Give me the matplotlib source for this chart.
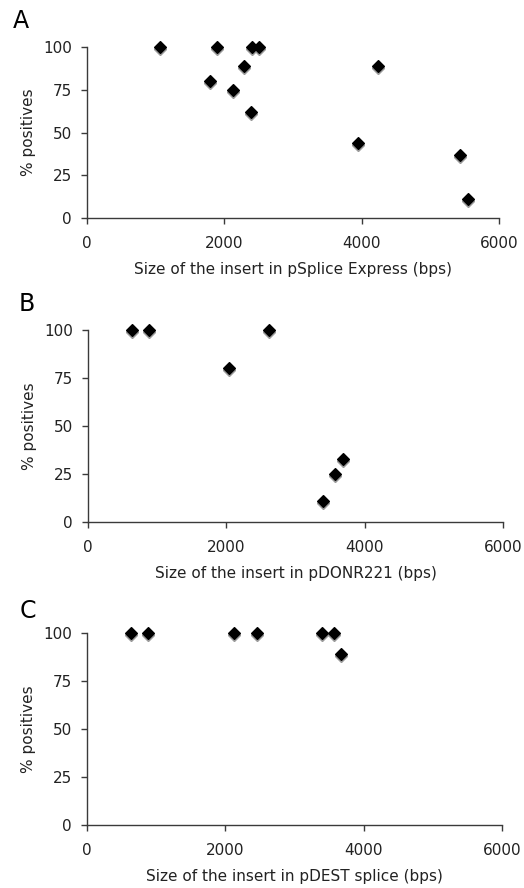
import matplotlib
matplotlib.use('Agg')
import matplotlib.pyplot as plt
import matplotlib.transforms as mtransforms

# panel A: pSplice Express
size_a = [1067, 1791, 1893, 2131, 2291, 2384, 2408, 2505, 3942, 4238, 5437, 5544]
pos_a = [100, 80, 100, 75, 89, 62, 100, 100, 44, 89, 37, 11]

# panel B: pDONR221
size_b = [630, 876, 2045, 2617, 3402, 3565, 3681]
pos_b = [100, 100, 80, 100, 11, 25, 33]

# panel C: pDEST splice
size_c = [632, 888, 2128, 2451, 3398, 3572, 3678]
pos_c = [100, 100, 100, 100, 100, 100, 89]

xticks = [0, 2000, 4000, 6000]
yticks = [0, 25, 50, 75, 100]

plt.rcParams['font.family'] = ['DejaVu Sans']

W, H = 524, 888
fig = plt.figure(figsize=(W / 100, H / 100), dpi=100)


def px_axes(left, right, top, bottom):
    return fig.add_axes([left / W, 1 - bottom / H, (right - left) / W, (bottom - top) / H])


def panel(ax, x, y, xlabel, letter, letter_xy):
    # grey shadow slightly below each marker
    shadow = mtransforms.offset_copy(ax.transData, fig=fig, x=0, y=-2, units='dots')
    ax.plot(x, y, 'D', ms=6.0, color='#9a9a9a', mec='#9a9a9a', mew=1.0,
            transform=shadow, clip_on=False, zorder=2)
    ax.plot(x, y, 'D', ms=6.0, color='black', mec='black', mew=0.9,
            clip_on=False, zorder=3)
    ax.set_xlim(0, 6000)
    ax.set_ylim(0, 100)
    ax.set_xticks(xticks)
    ax.set_yticks(yticks)
    for s in ['top', 'right']:
        ax.spines[s].set_visible(False)
    for s in ['left', 'bottom']:
        ax.spines[s].set_color('#3a3a3a')
        ax.spines[s].set_linewidth(1.0)
    ax.tick_params(axis='x', direction='out', length=4, width=1.0, color='#3a3a3a',
                   labelsize=11, pad=9, labelcolor='#222222')
    ax.tick_params(axis='y', direction='out', length=4, width=1.0, color='#3a3a3a',
                   labelsize=11, pad=7, labelcolor='#222222')
    ax.set_xlabel(xlabel, fontsize=11, labelpad=8, color='#222222')
    ax.set_ylabel('% positives', fontsize=11, labelpad=5, color='#222222')
    fig.text(letter_xy[0] / W, 1 - letter_xy[1] / H, letter, fontsize=17,
             ha='left', va='baseline', color='black')


ax1 = px_axes(87, 499, 47, 218)
panel(ax1, size_a, pos_a, 'Size of the insert in pSplice Express (bps)', 'A', (13, 28))

ax2 = px_axes(88, 503, 330, 522)
panel(ax2, size_b, pos_b, 'Size of the insert in pDONR221 (bps)', 'B', (19, 311))

ax3 = px_axes(87, 502, 633, 825)
panel(ax3, size_c, pos_c, 'Size of the insert in pDEST splice (bps)', 'C', (20, 618))

fig.savefig('out.png', dpi=100)
